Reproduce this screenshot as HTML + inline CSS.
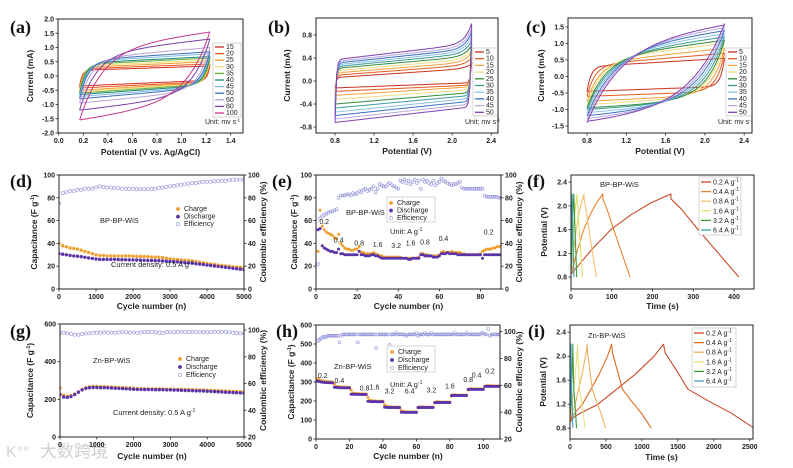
<!DOCTYPE html>
<html><head><meta charset="utf-8">
<style>
body{margin:0;background:#fff;}
svg{display:block;font-family:"Liberation Sans",Arial,sans-serif;}
.tk{font-size:7px;font-weight:bold;fill:#222;}
.at{font-size:8.5px;font-weight:bold;fill:#222;}
.pl{font-family:"Liberation Serif",serif;font-size:18px;font-weight:bold;fill:#111;}
.lg{font-size:7px;fill:#222;}
.an{font-size:7.5px;fill:#222;}
</style></head>
<body>
<svg id="fig" width="793" height="468" viewBox="0 0 793 468" xmlns="http://www.w3.org/2000/svg">
<text x="40" y="457" font-family="'Liberation Sans','Noto Sans CJK SC',sans-serif" font-size="17" fill="#cfcfcf">大数跨境</text>
<text x="6" y="457" font-size="16" fill="#d4d4d4">K°°</text>
</svg>
<script>
// ---------- data ----------
// (a) CV, scan rates and plateau currents
const aRates=['15','20','25','30','35','40','45','50','60','80','100'];
const aUL=[.2,.25,.3,.35,.4,.45,.5,.55,.6,.75,.93];
const aUR=[.35,.42,.5,.56,.63,.68,.78,.85,1.0,1.3,1.55];
const aLL=[-.35,-.42,-.5,-.55,-.6,-.65,-.72,-.8,-.95,-1.2,-1.55];
const aLR=[-.15,-.2,-.22,-.25,-.28,-.32,-.36,-.4,-.5,-.65,-.85];
const aTau=[.02,.025,.03,.035,.04,.05,.06,.07,.09,.13,.18];
const aCol=['#d62a20','#e8561c','#f0a030','#efe07a','#6aae3c','#1a8a7a','#86bde6','#3a6fb8','#b9a2da','#7c3fa8','#c8388c'];
// (b)
const bRates=['5','10','15','20','25','30','35','40','45','50'];
const bUL=[.06,.1,.14,.18,.22,.25,.28,.31,.34,.37];
const bUR=[.22,.28,.33,.38,.43,.48,.52,.56,.6,.65];
const bTip=[.3,.4,.5,.55,.62,.7,.78,.85,.92,1.0];
const bLL=[-.12,-.18,-.25,-.32,-.4,-.47,-.54,-.6,-.66,-.72];
const bLR=[-.03,-.07,-.1,-.15,-.2,-.25,-.3,-.35,-.4,-.45];
const bCol=['#c83020','#e05a1c','#f2a23a','#f0dc80','#2e8b3a','#3a9a9a','#8cc0e0','#3a70c0','#b8a8e0','#8040b0'];
// (c)
const cRates=['5','10','15','20','25','30','35','40','45','50'];
const cUL=[.3,.35,.4,.5,.55,.6,.7,.8,.9,1.0];
const cUR=[.55,.7,.85,1.0,1.1,1.2,1.3,1.4,1.5,1.6];
const cLL=[-.45,-.6,-.75,-.85,-.95,-1.0,-1.1,-1.2,-1.3,-1.4];
const cLR=[-.3,-.45,-.55,-.6,-.7,-.75,-.8,-.85,-.9,-.95];
const cTau=[.04,.08,.12,.15,.18,.21,.24,.27,.3,.33];
// (d) every 100 cycles
const dCharge=[40,38,37,36,35.5,35,34,33,32,31,30,29.5,29.5,29,29,29,29,29,29,29,28.8,28.7,28.5,28.5,28.3,28,28,27.8,27.5,27,26.5,26,25.8,25.5,25.2,25,24.5,24,23.5,23,22.5,22,21.5,21,20.7,20.3,20,19.5,19.2,19,18.5];
const dDis=[31,30.5,30,29.5,29,28.8,28.3,27.8,27.3,26.8,26.3,26,26,26,26,26,25.8,25.7,25.6,25.5,25.5,25.4,25.3,25.2,25.1,25,24.9,24.8,24.6,24.4,24.2,24,23.8,23.5,23.2,23,22.6,22.2,21.8,21.4,21,20.6,20.2,19.8,19.4,19,18.6,18.2,17.8,17.4,17];
const dEff=[75,84,85,86,86,87,87,88,88,88,89,90,89.5,89,89,88.5,88.5,88,88,88,88,87.5,87.5,87.5,87.5,88,88,88.5,89,89.5,90,90.5,91,91.5,92,92.5,93,93,93.5,94,94,94,94.5,94.5,95,95,95.5,96,96,96,96];
// (e) per cycle 1..90
const eCharge=[33,69,55,52,50,49,48,47,45,44, 48,40,38,36,35,35,34,34,35,35, 37,32,32,31,31,31,31,32,31,30, 29,29,28,28,28,28,28,28,28,28, 28,27,27,27,27,27,27,27,27,28, 31,31,30,30,29,29,29,29,29,30, 32,33,32,32,32,33,32,32,32,32, 31,31,30,30,30,30,30,30,30,31, 33,34,35,35,35,36,36,37,37,38];
const eDis=[52,53,38,36,35,34,33,33,32,32, 35,31,31,30,30,30,30,30,30,30, 33,30,30,29,29,29,30,30,29,29, 28,27,27,27,27,27,27,27,27,27, 27,27,27,27,26,26,27,27,27,27, 30,30,29,29,29,29,28,28,28,29, 31,31,31,32,31,31,31,31,30,30, 30,30,30,30,30,30,30,30,30,30, 27,30,30,30,30,30,30,30,30,30];
const eEff=[22,62,64,65,66,67,68,68,69,70, 80,82,82,82,83,83,82,84,83,84, 86,85,87,88,86,87,88,90,85,88, 92,91,90,90,92,93,91,90,89,88, 95,94,96,93,95,92,94,96,93,95, 88,96,94,95,93,92,95,91,93,94, 97,95,94,93,92,91,92,92,93,94, 89,88,88,88,88,88,88,88,88,88, 88,82,81,81,81,81,81,81,80,80];
const eRateLbl=['0.2','0.4','0.8','1.6','3.2','1.6','0.8','0.4','0.2'];
const eRateX=[4,11,21,30,39,46,53,62,84];
const eRateY=[57,41,38,37,36,38,39,42,48];
// (f) GCD
const fLbl=['0.2','0.4','0.8','1.6','3.2','6.4'];
const fPeak=[245,78,32,15,7,3];
const fEnd=[412,145,62,28,14,7];
const fCol=['#c84a28','#e8842c','#f4c070','#dfe06a','#3a9a3a','#3aa0a0'];
const fChgF=[0,.1,.2,.4,.6,.8,1], fChgV=[.85,1.05,1.25,1.6,1.85,2.05,2.2];
const fDisF=[0,0,.15,.4,.7,1], fDisV=[2.2,2.12,1.95,1.6,1.2,.8];
// (g)
const gCharge=[262,222,215,220,228,240,252,262,266,268,268,267,267,266,265,264,263,262,261,260,258,257,256,256,255,255,255,255,255,254,254,253,253,252,252,251,251,250,250,249,248,247,246,246,245,244,243,242,241,240,240];
const gDis=[225,212,210,215,225,238,250,258,262,263,263,262,262,261,260,259,258,257,256,255,254,253,253,252,252,252,251,251,251,250,250,249,249,248,247,247,246,245,245,244,243,242,241,240,239,238,237,236,235,234,233];
const gEff=[98,98,97.5,97,96.5,96.5,97,97.5,97.5,98,98,98,98.2,98,98,98,98.2,98.5,98.3,98,98.2,98,98.3,98.4,98.5,98.5,98.3,98,97.8,98.5,98.3,98.4,98.6,98.5,98.6,98.4,98.5,98.6,98.2,98.5,98.3,98.4,98.5,98.6,98.5,98.4,98.3,98,97.8,97.5,97.5];
// (h) per cycle 1..110
const hCharge=[318,312,308,306,304,303,302,301,300,300, 290,278,276,275,274,273,273,272,272,272, 258,242,240,239,238,238,237,237,237,237, 220,204,202,201,200,200,199,199,199,199, 180,172,170,169,169,168,168,168,168,168, 150,145,143,143,142,142,142,142,142,142, 165,170,169,169,168,168,168,168,168,168, 190,196,195,195,194,194,194,194,194,194, 226,232,232,231,231,231,231,231,231,231, 258,264,264,263,263,263,263,263,263,263, 278,281,280,280,280,279,279,279,279,279];
const hDis=[305,302,300,299,298,297,297,296,296,295, 272,271,271,270,270,270,269,269,269,269, 236,236,235,235,235,235,234,234,234,234, 198,198,197,197,197,197,196,196,196,196, 167,167,166,166,166,166,166,165,165,165, 141,141,140,140,140,140,140,140,140,140, 166,166,166,166,166,166,166,166,166,166, 192,192,192,192,192,192,192,192,192,192, 229,229,229,229,229,229,229,229,229,229, 261,261,261,261,261,261,261,261,261,261, 277,277,277,277,277,277,277,277,277,277];
const hEff=[93,94,95,96,96,96,97,97,97,97, 97,97,97,92,97,98,98,98,98,98, 98,98,98,98,92,98,98,98,98,98, 98,98,98,98,98,88,98,98,98,98, 98,98,98,90,98,98,98,99,98,98, 98,98,98,97,98,98,98,98,98,99, 97,98,98,98,99,98,98,98,99,98, 98,98,98,98,98,98,98,98,98,98, 98,98,99,98,98,98,98,98,98,99, 98,98,98,98,98,98,98,98,99,99, 98,98,102,97,98,98,98,98,98,98];
const hRateLbl=['0.2','0.4','0.8','1.6','3.2','6.4','3.2','1.6','0.8','0.4','0.2'];
const hRateX=[4,14,29,35,44,56,69,80,91,96,104];
const hRateY=[320,295,255,260,240,240,245,265,300,325,345];
// (i)
const iLbl=['0.2','0.4','0.8','1.6','3.2','6.4'];
const iPeak=[1300,580,240,105,40,15];
const iEnd=[2560,1130,495,210,90,40];
const iCol=['#c84a28','#e06a1c','#f0b060','#e8e080','#3a9a3a','#4aa0c0'];
const iChgF=[0,.05,.3,.5,.7,.9,1], iChgV=[.9,1.0,1.2,1.45,1.7,2.0,2.2];
const iDisF=[0,.02,.15,.27,.5,.75,1], iDisV=[2.2,2.05,1.75,1.45,1.25,1.05,.8];

// ---------- helpers ----------
const NS='http://www.w3.org/2000/svg';
const svg=document.getElementById('fig');
function mk(tag,attrs,parent){const e=document.createElementNS(NS,tag);for(const k in attrs)e.setAttribute(k,attrs[k]);(parent||svg).appendChild(e);return e;}
function txt(s,x,y,cls,anchor,parent){const t=mk('text',{x:x,y:y,class:cls,'text-anchor':anchor||'start'},parent);t.textContent=s;return t;}
function axes(p){
  const g=mk('g',{});
  
  
  p.sx=v=>p.x0+(v-p.xl[0])/(p.xl[1]-p.xl[0])*(p.x1-p.x0);
  p.sy=v=>p.y1-(v-p.yl[0])/(p.yl[1]-p.yl[0])*(p.y1-p.y0);
  if(p.y2l)p.sy2=v=>p.y1-(v-p.y2l[0])/(p.y2l[1]-p.y2l[0])*(p.y1-p.y0);
  p.g=g;
  const clip=mk('clipPath',{id:'clip-'+p.name},g);
  mk('rect',{x:p.x0,y:p.y0,width:p.x1-p.x0,height:p.y1-p.y0},clip);
  p.plot=mk('g',{'clip-path':'url(#clip-'+p.name+')'},g);
  
  
  p.xt.forEach((v,i)=>{const x=p.sx(v);mk('line',{x1:x,x2:x,y1:p.y1,y2:p.y1+2.5,stroke:'#222','stroke-width':.8},g);
    const t=txt(p.xtl[i],x,p.y1+10,'tk','middle',g);
    
    });
  p.yt.forEach((v,i)=>{const y=p.sy(v);mk('line',{x1:p.x0-2.5,x2:p.x0,y1:y,y2:y,stroke:'#222','stroke-width':.8},g);
    const t=txt(p.ytl[i],p.x0-4,y+2.5,'tk','end',g);
    
    });
  if(p.y2t)p.y2t.forEach((v,i)=>{const y=p.sy2(v);mk('line',{x1:p.x1,x2:p.x1+2.5,y1:y,y2:y,stroke:'#222','stroke-width':.8},g);
    const t=txt(p.y2tl[i],p.x1+4,y+2.5,'tk','start',g);
    
    });
  const xt=txt(p.xlab,(p.x0+p.x1)/2,p.xly,'at','middle',g);
  
  
  const yc=(p.y0+p.y1)/2;
  const yt=mk('text',{x:p.ylx,y:yc,class:'at','text-anchor':'middle',transform:'rotate(-90 '+p.ylx+' '+yc+')'},g);
  yt.innerHTML=p.ylab;
  
  
  if(p.y2lab){const y2=mk('text',{x:p.y2lx,y:yc,class:'at','text-anchor':'middle',transform:'rotate(-90 '+p.y2lx+' '+yc+')'},g);
    y2.innerHTML=p.y2lab;
    
    }
  const pl=txt(p.label,p.lx,p.ly,'pl','start',g);
  
  
  return p;
}
function frame(p){const r=mk('rect',{x:p.x0,y:p.y0,width:p.x1-p.x0,height:p.y1-p.y0,fill:'none',stroke:'#222','stroke-width':1},p.g);
  
  }
function range(a,b,s){const r=[];for(let v=a;v<=b+1e-9;v+=s)r.push(+v.toFixed(6));return r;}
function fmt(d){return v=>v.toFixed(d);}
// CV loop from plateau arrays
function cvLoop(p,xL,xR,uL,uR,lL,lR,tau,tip,col){
  const pts=[];const N=80;
  for(let k=0;k<=N;k++){const x=xL+(xR-xL)*k/N;let plat=uL+(uR-uL)*(x-xL)/(xR-xL);
    if(tip!=null)plat+=(tip-uR)*Math.exp(-(xR-x)/0.07);
    const y=lL+(plat-lL)*(1-Math.exp(-(x-xL)/tau));pts.push(p.sx(x).toFixed(1)+','+p.sy(y).toFixed(1));}
  const top=tip!=null?tip:uR;
  for(let k=0;k<=N;k++){const x=xR-(xR-xL)*k/N;const plat=lR+(lL-lR)*(xR-x)/(xR-xL);
    const y=top+(plat-top)*(1-Math.exp(-(xR-x)/tau));pts.push(p.sx(x).toFixed(1)+','+p.sy(y).toFixed(1));}
  const pl=mk('polyline',{points:pts.join(' '),fill:'none',stroke:col,'stroke-width':1},p.plot);
  
  
}
function cvLegend(p,lx,ly0,dy,labels,cols,box,unitX,unitY){
  if(box){const b=mk('rect',{x:box[0],y:box[1],width:box[2],height:box[3],fill:'#fff',stroke:'#bbb','stroke-width':.6},p.g);
    
    }
  labels.forEach((l,i)=>{const y=ly0+i*dy;
    const ln=mk('line',{x1:lx,x2:lx+9,y1:y,y2:y,stroke:cols[i],'stroke-width':1.3},p.g);
    
    
    txt(l,lx+11,y+2,'lg','start',p.g).setAttribute('font-size','6');});
  const u=mk('text',{x:unitX,y:unitY,class:'lg','font-size':'6.5'},p.g);
  u.innerHTML='Unit: mv s<tspan dy="-2.5" font-size="4.5">-1</tspan>';
  
  
}
function markers(p,xs,ys,sy,kind,col,r){
  xs.forEach((x,i)=>{
    const c=mk('circle',{cx:p.sx(x).toFixed(1),cy:sy(ys[i]).toFixed(1),r:r,fill:kind==='open'?'none':col,stroke:col,'stroke-width':kind==='open'?.6:0},p.plot);
    
    });
}
function ptLegend(p,mx,y0,dy,box){
  if(box){const b=mk('rect',{x:box[0],y:box[1],width:box[2],height:box[3],fill:'#fff',stroke:'#bbb','stroke-width':.6},p.g);
    
    }
  const items=[['Charge','#f0a030','f'],['Discharge','#5a34a8','f'],['Efficiency','#8f8fd8','open']];
  items.forEach((it,i)=>{const y=y0+i*dy;
    const c=mk('circle',{cx:mx,cy:y-2,r:1.6,fill:it[2]==='open'?'none':it[1],stroke:it[1],'stroke-width':.6},p.g);
    
    
    txt(it[0],mx+6,y,'lg','start',p.g);});
}
function sup(el,base,s){el.innerHTML=base+'<tspan dy="-3" font-size="5">'+s+'</tspan>';}
function gcd(p,peaks,ends,cols,cF,cV,dF,dV){
  peaks.forEach((pk,i)=>{const pts=[];
    cF.forEach((f,k)=>pts.push(p.sx(f*pk).toFixed(1)+','+p.sy(cV[k]).toFixed(1)));
    dF.forEach((f,k)=>pts.push(p.sx(pk+f*(ends[i]-pk)).toFixed(1)+','+p.sy(dV[k]).toFixed(1)));
    const pl=mk('polyline',{points:pts.join(' '),fill:'none',stroke:cols[i],'stroke-width':1.1,'stroke-linejoin':'round'},p.plot);
    
    });
}
function gcdLegend(p,box,lbls,cols){
  const b=mk('rect',{x:box[0],y:box[1],width:box[2],height:box[3],fill:'#fff',stroke:'#bbb','stroke-width':.6},p.g);
  
  
  lbls.forEach((l,i)=>{const y=box[1]+7+i*9.6;
    const ln=mk('line',{x1:box[0]+2,x2:box[0]+12,y1:y-2,y2:y-2,stroke:cols[i],'stroke-width':1.3},p.g);
    
    
    const t=mk('text',{x:box[0]+14,y:y+0.5,class:'lg'},p.g);sup(t,l+' A g','-1');});
}

// ---------- (a) ----------
let A=axes({name:'panel-a',x0:58,x1:243,y0:19,y1:133,xl:[-0.006,1.5],yl:[-2,2],
  xt:range(0,1.4,.2),xtl:range(0,1.4,.2).map(fmt(1)),yt:range(-2,2,.5),ytl:range(-2,2,.5).map(fmt(1)),
  xlab:'Potential (V vs. Ag/AgCl)',xly:155,ylab:'Current (mA)',ylx:33,label:'(a)',lx:10,ly:33});
aRates.forEach((r,i)=>cvLoop(A,.17,1.23,aUL[i],aUR[i],aLL[i],aLR[i],aTau[i],null,aCol[i]));
cvLegend(A,215,47,6.6,aRates,aCol,[213,43,28,74],205,124);
frame(A);
// ---------- (b) ----------
let B=axes({name:'panel-b',x0:316,x1:498,y0:18,y1:133,xl:[.605,2.47],yl:[-.904,1.096],
  xt:range(.8,2.4,.4),xtl:range(.8,2.4,.4).map(fmt(1)),yt:range(-.8,.8,.4),ytl:range(-.8,.8,.4).map(fmt(1)),
  xlab:'Potential (V)',xly:154,ylab:'Current (mA)',ylx:290,label:'(b)',lx:268,ly:33});
bRates.forEach((r,i)=>cvLoop(B,.8,2.2,bUL[i],bUR[i],bLL[i],bLR[i],.012,bTip[i],bCol[i]));
cvLegend(B,475,52,6.7,bRates,bCol,[473,48,25,68],465,124);
frame(B);
// ---------- (c) ----------
let C=axes({name:'panel-c',x0:568,x1:752,y0:18,y1:133,xl:[.606,2.48],yl:[-1.71,1.77],
  xt:range(.8,2.4,.4),xtl:range(.8,2.4,.4).map(fmt(1)),yt:range(-1.5,1.5,.5),ytl:range(-1.5,1.5,.5).map(fmt(1)),
  xlab:'Potential (V)',xly:154,ylab:'Current (mA)',ylx:544,label:'(c)',lx:526,ly:33});
cRates.forEach((r,i)=>cvLoop(C,.8,2.2,cUL[i],cUR[i],cLL[i],cLR[i],cTau[i],null,bCol[i]));
cvLegend(C,728,52,6.7,cRates,bCol,[726,48,26,68],718,124);
frame(C);
// ---------- (d) ----------
let D=axes({name:'panel-d',x0:59,x1:244,y0:175,y1:289,xl:[0,5000],yl:[0,100],y2l:[0,100],
  xt:range(0,5000,1000),xtl:range(0,5000,1000).map(String),yt:range(0,100,20),ytl:range(0,100,20).map(String),
  y2t:range(0,100,20),y2tl:range(0,100,20).map(String),
  xlab:'Cycle number (n)',xly:309,ylab:'Capacitance (F g<tspan dy="-3" font-size="5">-1</tspan><tspan dy="3">)</tspan>',ylx:37,
  y2lab:'Coulombic efficiency (%)',y2lx:266,label:'(d)',lx:10,ly:187});
const dX=dCharge.map((v,i)=>i*100);
markers(D,dX,dEff,D.sy2,'open','#8f8fd8',1.6);
markers(D,dX,dCharge,D.sy,'f','#f0a030',1.7);
markers(D,dX,dDis,D.sy,'f','#5a34a8',1.7);
ptLegend(D,178,211,7.6,null);
txt('BP-BP-WiS',100,223,'an');
{const t=mk('text',{x:111,y:267,class:'an'});sup(t,'Current density: 0.5 A g','-1');

}
frame(D);
// ---------- (e) ----------
let E=axes({name:'panel-e',x0:316,x1:501,y0:175,y1:289,xl:[0,90],yl:[0,100],y2l:[0,100],
  xt:range(0,80,20),xtl:range(0,80,20).map(String),yt:range(0,100,20),ytl:range(0,100,20).map(String),
  y2t:range(0,100,20),y2tl:range(0,100,20).map(String),
  xlab:'Cycle number (n)',xly:309,ylab:'Capacitance (F g<tspan dy="-3" font-size="5">-1</tspan><tspan dy="3">)</tspan>',ylx:297,
  y2lab:'Coulombic efficiency (%)',y2lx:522,label:'(e)',lx:272,ly:187});
const eX=eCharge.map((v,i)=>i+1);
markers(E,eX,eEff,E.sy2,'open','#8f8fd8',1.5);
markers(E,eX,eCharge,E.sy,'f','#f0a030',1.5);
markers(E,eX,eDis,E.sy,'f','#5a34a8',1.5);
ptLegend(E,391,205,7.5,[387,197,48,25]);
txt('BP-BP-WiS',346,215,'an');
{const t=mk('text',{x:390,y:234,class:'an'});sup(t,'Unit: A g','-1');}
eRateLbl.forEach((l,i)=>{const t=txt(l,E.sx(eRateX[i]),E.sy(eRateY[i]),'lg','middle');
  
  });
frame(E);
// ---------- (f) ----------
let F=axes({name:'panel-f',x0:571,x1:754,y0:175,y1:289,xl:[0,449],yl:[.6,2.52],
  xt:range(0,400,100),xtl:range(0,400,100).map(String),yt:range(.8,2.4,.4),ytl:range(.8,2.4,.4).map(fmt(1)),
  xlab:'Time (s)',xly:309,ylab:'Potential (V)',ylx:547,label:'(f)',lx:527,ly:187});
gcd(F,fPeak,fEnd,fCol,fChgF,fChgV,fDisF,fDisV);
gcdLegend(F,[699,177,42,58],fLbl,fCol);
txt('BP-BP-WiS',600,187,'an');
frame(F);
// ---------- (g) ----------
let G=axes({name:'panel-g',x0:60,x1:244,y0:324,y1:437,xl:[0,5000],yl:[0,600],y2l:[20,104.5],
  xt:range(0,5000,1000),xtl:range(0,5000,1000).map(String),yt:range(0,600,200),ytl:range(0,600,200).map(String),
  y2t:range(20,100,20),y2tl:range(20,100,20).map(String),
  xlab:'Cycle number (n)',xly:459,ylab:'Capacitance (F g<tspan dy="-3" font-size="5">-1</tspan><tspan dy="3">)</tspan>',ylx:33,
  y2lab:'Coulombic efficiency (%)',y2lx:266,label:'(g)',lx:10,ly:337});
const gX=gCharge.map((v,i)=>i*100);
markers(G,gX,gEff,G.sy2,'open','#8f8fd8',1.6);
markers(G,gX,gCharge,G.sy,'f','#f0a030',1.7);
markers(G,gX,gDis,G.sy,'f','#5a34a8',1.7);
ptLegend(G,180,361,8,null);
txt('Zn-BP-WiS',93,363,'an');
{const t=mk('text',{x:113,y:415,class:'an'});sup(t,'Current density: 0.5 A g','-1');}
frame(G);
// ---------- (h) ----------
let H=axes({name:'panel-h',x0:316,x1:500,y0:325,y1:439,xl:[0,110],yl:[0,600],y2l:[20,105],
  xt:range(0,100,20),xtl:range(0,100,20).map(String),yt:range(0,600,100),ytl:range(0,600,100).map(String),
  y2t:range(20,100,20),y2tl:range(20,100,20).map(String),
  xlab:'Cycle number (n)',xly:459,ylab:'Capacitance (F g<tspan dy="-3" font-size="5">-1</tspan><tspan dy="3">)</tspan>',ylx:294,
  y2lab:'Coulombic efficiency (%)',y2lx:522,label:'(h)',lx:276,ly:337});
const hX=hCharge.map((v,i)=>i+1);
markers(H,hX,hEff,H.sy2,'open','#8f8fd8',1.5);
markers(H,hX,hCharge,H.sy,'f','#f0a030',1.5);
markers(H,hX,hDis,H.sy,'f','#5a34a8',1.5);
ptLegend(H,392,354,8,[387,346,48,26]);
txt('Zn-BP-WiS',334,369,'an');
{const t=mk('text',{x:390,y:387,class:'an'});sup(t,'Unit: A g','-1');}
hRateLbl.forEach((l,i)=>{const t=txt(l,H.sx(hRateX[i]),H.sy(hRateY[i]),'lg','middle');
  
  });
frame(H);
// ---------- (i) ----------
let I=axes({name:'panel-i',x0:570,x1:753,y0:325,y1:439,xl:[0,2545],yl:[.62,2.52],
  xt:range(0,2500,500),xtl:range(0,2500,500).map(String),yt:range(.8,2.4,.4),ytl:range(.8,2.4,.4).map(fmt(1)),
  xlab:'Time (s)',xly:460,ylab:'Potential (V)',ylx:546,label:'(i)',lx:528,ly:337});
gcd(I,iPeak,iEnd,iCol,iChgF,iChgV,iDisF,iDisV);
gcdLegend(I,[692,328,44,59],iLbl,iCol);
txt('Zn-BP-WiS',588,338,'an');
frame(I);
</script>
</body></html>
